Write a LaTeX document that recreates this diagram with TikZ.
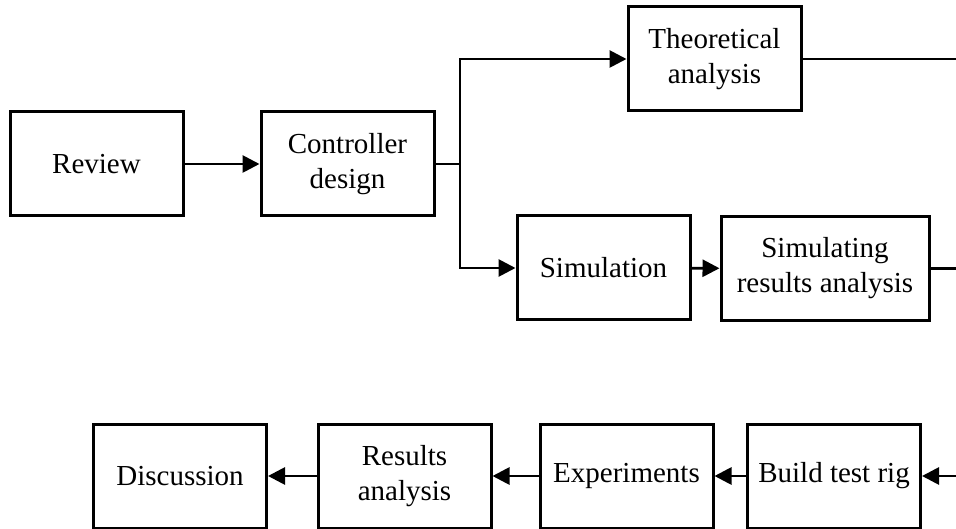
\documentclass[tikz,border=0pt]{standalone}
\usepackage{fontspec}
\setmainfont{Liberation Serif}
\usetikzlibrary{arrows.meta}
\begin{document}
\begin{tikzpicture}[x=1pt,y=-1pt,
  box/.style={draw, line width=3pt, minimum width=173pt, minimum height=104pt,
    inner sep=0pt, align=center, font=\fontsize{29}{35}\selectfont},
  conn/.style={line width=2.8pt},
  arr/.style={conn, -{Triangle[length=17pt,width=17pt]}}]
\useasboundingbox (0,0) rectangle (956,529);
\node[box] (rev) at (96.5,164) {Review};
\node[box] (ctl) at (347.5,164) {Controller\\design};
\node[box] (the) at (714.5,59) {Theoretical\\analysis};
\node[box] (sim) at (603.5,268) {Simulation};
\node[box, minimum width=208pt] (sra) at (825,268.5) {Simulating\\results analysis};
\node[box] (btr) at (834,476) {Build test rig};
\node[box] (exp) at (626.5,476) {Experiments};
\node[box] (res) at (404.5,476) {Results\\analysis};
\node[box] (dis) at (180,476) {Discussion};
\coordinate (br) at (460,164);
\coordinate (brt) at (460,59);
\coordinate (brb) at (460,268);
\coordinate (e1) at (956,59);
\coordinate (e2) at (956,268.5);
\coordinate (e3) at (956,476);
\draw[arr] (rev) -- (ctl);
\draw[conn] (ctl.east) -- (br);
\draw[conn, line cap=rect] (brt) -- (brb);
\draw[arr] (brt) -- (the.west);
\draw[arr] (brb) -- (sim.west);
\draw[arr] (sim) -- (sra);
\draw[conn] (the.east) -- (e1);
\draw[conn] (sra.east) -- (e2);
\draw[arr] (e3) -- (btr.east);
\draw[arr] (btr) -- (exp);
\draw[arr] (exp) -- (res);
\draw[arr] (res) -- (dis);
\end{tikzpicture}
\end{document}
